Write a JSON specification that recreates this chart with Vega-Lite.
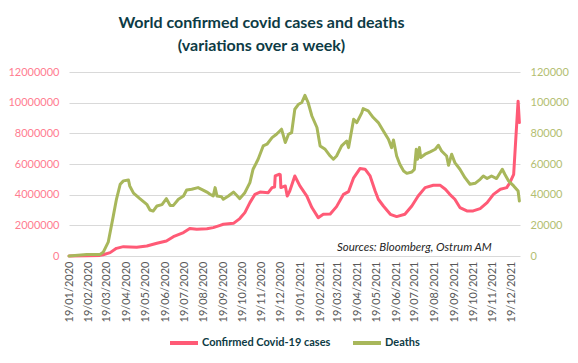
{
  "$schema": "https://vega.github.io/schema/vega-lite/v6.json",
  "width": 451,
  "height": 184,
  "autosize": {"type": "none"},
  "padding": {"left": 69, "top": 72, "right": 58, "bottom": 107},
  "background": "white",
  "title": {
    "text": ["World confirmed covid cases and deaths", "(variations over a week)"],
    "font": "Lato",
    "fontSize": 16,
    "fontWeight": "bold",
    "color": "#0D3B45",
    "anchor": "middle",
    "frame": "group",
    "dx": -33,
    "lineHeight": 23,
    "offset": 12
  },
  "datasets": {
    "cases": [
      {"date": "2020-01-19", "cases": 0},
      {"date": "2020-02-16", "cases": 15000},
      {"date": "2020-03-08", "cases": 40000},
      {"date": "2020-03-13", "cases": 80000},
      {"date": "2020-03-24", "cases": 220000},
      {"date": "2020-04-03", "cases": 500000},
      {"date": "2020-04-14", "cases": 610000},
      {"date": "2020-05-05", "cases": 570000},
      {"date": "2020-05-21", "cases": 650000},
      {"date": "2020-06-06", "cases": 830000},
      {"date": "2020-06-21", "cases": 980000},
      {"date": "2020-07-02", "cases": 1260000},
      {"date": "2020-07-18", "cases": 1530000},
      {"date": "2020-07-28", "cases": 1800000},
      {"date": "2020-08-08", "cases": 1740000},
      {"date": "2020-08-24", "cases": 1780000},
      {"date": "2020-09-03", "cases": 1850000},
      {"date": "2020-09-14", "cases": 2000000},
      {"date": "2020-09-19", "cases": 2070000},
      {"date": "2020-10-05", "cases": 2130000},
      {"date": "2020-10-15", "cases": 2440000},
      {"date": "2020-10-23", "cases": 2830000},
      {"date": "2020-10-31", "cases": 3480000},
      {"date": "2020-11-08", "cases": 4020000},
      {"date": "2020-11-16", "cases": 4170000},
      {"date": "2020-11-29", "cases": 4130000},
      {"date": "2020-12-05", "cases": 4460000},
      {"date": "2020-12-09", "cases": 4500000},
      {"date": "2020-12-10", "cases": 5220000},
      {"date": "2020-12-16", "cases": 5330000},
      {"date": "2020-12-18", "cases": 5300000},
      {"date": "2020-12-19", "cases": 4460000},
      {"date": "2020-12-26", "cases": 4570000},
      {"date": "2020-12-29", "cases": 3910000},
      {"date": "2021-01-02", "cases": 4240000},
      {"date": "2021-01-10", "cases": 5220000},
      {"date": "2021-01-18", "cases": 4570000},
      {"date": "2021-01-29", "cases": 3910000},
      {"date": "2021-02-06", "cases": 3160000},
      {"date": "2021-02-16", "cases": 2500000},
      {"date": "2021-02-24", "cases": 2720000},
      {"date": "2021-03-07", "cases": 2740000},
      {"date": "2021-03-17", "cases": 3220000},
      {"date": "2021-03-28", "cases": 4020000},
      {"date": "2021-04-05", "cases": 4200000},
      {"date": "2021-04-13", "cases": 5100000},
      {"date": "2021-04-23", "cases": 5700000},
      {"date": "2021-05-01", "cases": 5660000},
      {"date": "2021-05-09", "cases": 5220000},
      {"date": "2021-05-17", "cases": 4240000},
      {"date": "2021-05-22", "cases": 3700000},
      {"date": "2021-05-30", "cases": 3260000},
      {"date": "2021-06-10", "cases": 2720000},
      {"date": "2021-06-20", "cases": 2570000},
      {"date": "2021-07-03", "cases": 2720000},
      {"date": "2021-07-14", "cases": 3260000},
      {"date": "2021-07-24", "cases": 3910000},
      {"date": "2021-08-04", "cases": 4460000},
      {"date": "2021-08-17", "cases": 4610000},
      {"date": "2021-08-28", "cases": 4610000},
      {"date": "2021-09-05", "cases": 4350000},
      {"date": "2021-09-12", "cases": 4020000},
      {"date": "2021-09-20", "cases": 3700000},
      {"date": "2021-09-28", "cases": 3160000},
      {"date": "2021-10-09", "cases": 2940000},
      {"date": "2021-10-19", "cases": 2940000},
      {"date": "2021-10-30", "cases": 3090000},
      {"date": "2021-11-10", "cases": 3480000},
      {"date": "2021-11-20", "cases": 4020000},
      {"date": "2021-12-01", "cases": 4350000},
      {"date": "2021-12-11", "cases": 4460000},
      {"date": "2021-12-16", "cases": 4780000},
      {"date": "2021-12-22", "cases": 5330000},
      {"date": "2021-12-25", "cases": 7400000},
      {"date": "2021-12-29", "cases": 10100000},
      {"date": "2021-12-31", "cases": 8700000}
    ],
    "deaths": [
      {"date": "2020-01-19", "deaths": 0},
      {"date": "2020-02-16", "deaths": 1000},
      {"date": "2020-03-08", "deaths": 1000},
      {"date": "2020-03-13", "deaths": 2400},
      {"date": "2020-03-21", "deaths": 9000},
      {"date": "2020-03-29", "deaths": 26000},
      {"date": "2020-04-03", "deaths": 37000},
      {"date": "2020-04-09", "deaths": 46800},
      {"date": "2020-04-14", "deaths": 49000},
      {"date": "2020-04-22", "deaths": 49600},
      {"date": "2020-04-24", "deaths": 45700},
      {"date": "2020-04-30", "deaths": 41000},
      {"date": "2020-05-10", "deaths": 37400},
      {"date": "2020-05-21", "deaths": 33700},
      {"date": "2020-05-26", "deaths": 30000},
      {"date": "2020-05-31", "deaths": 29300},
      {"date": "2020-06-06", "deaths": 32600},
      {"date": "2020-06-14", "deaths": 33500},
      {"date": "2020-06-21", "deaths": 37400},
      {"date": "2020-06-27", "deaths": 33000},
      {"date": "2020-07-02", "deaths": 33000},
      {"date": "2020-07-10", "deaths": 37000},
      {"date": "2020-07-18", "deaths": 39100},
      {"date": "2020-07-23", "deaths": 43000},
      {"date": "2020-07-31", "deaths": 43500},
      {"date": "2020-08-10", "deaths": 44600},
      {"date": "2020-08-18", "deaths": 43000},
      {"date": "2020-08-24", "deaths": 41700},
      {"date": "2020-08-29", "deaths": 40300},
      {"date": "2020-09-03", "deaths": 39100},
      {"date": "2020-09-06", "deaths": 44600},
      {"date": "2020-09-09", "deaths": 39100},
      {"date": "2020-09-16", "deaths": 38700},
      {"date": "2020-09-19", "deaths": 37000},
      {"date": "2020-09-27", "deaths": 39100},
      {"date": "2020-10-05", "deaths": 41700},
      {"date": "2020-10-10", "deaths": 39600},
      {"date": "2020-10-15", "deaths": 37400},
      {"date": "2020-10-23", "deaths": 41300},
      {"date": "2020-10-31", "deaths": 47900},
      {"date": "2020-11-05", "deaths": 56600},
      {"date": "2020-11-13", "deaths": 63100},
      {"date": "2020-11-21", "deaths": 71800},
      {"date": "2020-11-27", "deaths": 72900},
      {"date": "2020-12-05", "deaths": 77200},
      {"date": "2020-12-12", "deaths": 79400},
      {"date": "2020-12-20", "deaths": 82700},
      {"date": "2020-12-26", "deaths": 74000},
      {"date": "2020-12-31", "deaths": 79400},
      {"date": "2021-01-05", "deaths": 80500},
      {"date": "2021-01-10", "deaths": 95700},
      {"date": "2021-01-16", "deaths": 99000},
      {"date": "2021-01-21", "deaths": 100100},
      {"date": "2021-01-26", "deaths": 104800},
      {"date": "2021-01-31", "deaths": 100100},
      {"date": "2021-02-06", "deaths": 91300},
      {"date": "2021-02-14", "deaths": 83800},
      {"date": "2021-02-19", "deaths": 71800},
      {"date": "2021-02-27", "deaths": 69600},
      {"date": "2021-03-07", "deaths": 65200},
      {"date": "2021-03-12", "deaths": 63100},
      {"date": "2021-03-17", "deaths": 65200},
      {"date": "2021-03-25", "deaths": 71800},
      {"date": "2021-04-02", "deaths": 75000},
      {"date": "2021-04-05", "deaths": 70700},
      {"date": "2021-04-13", "deaths": 89200},
      {"date": "2021-04-18", "deaths": 87000},
      {"date": "2021-04-26", "deaths": 93500},
      {"date": "2021-04-28", "deaths": 96100},
      {"date": "2021-05-06", "deaths": 94600},
      {"date": "2021-05-14", "deaths": 90300},
      {"date": "2021-05-22", "deaths": 87000},
      {"date": "2021-05-30", "deaths": 81500},
      {"date": "2021-06-07", "deaths": 76100},
      {"date": "2021-06-12", "deaths": 70700},
      {"date": "2021-06-15", "deaths": 75700},
      {"date": "2021-06-20", "deaths": 65200},
      {"date": "2021-06-25", "deaths": 59800},
      {"date": "2021-07-01", "deaths": 55400},
      {"date": "2021-07-06", "deaths": 53900},
      {"date": "2021-07-14", "deaths": 54800},
      {"date": "2021-07-18", "deaths": 56500},
      {"date": "2021-07-21", "deaths": 69600},
      {"date": "2021-07-23", "deaths": 63100},
      {"date": "2021-07-26", "deaths": 70700},
      {"date": "2021-07-28", "deaths": 64200},
      {"date": "2021-08-04", "deaths": 66400},
      {"date": "2021-08-12", "deaths": 67900},
      {"date": "2021-08-20", "deaths": 69600},
      {"date": "2021-08-25", "deaths": 72200},
      {"date": "2021-08-30", "deaths": 68500},
      {"date": "2021-09-07", "deaths": 65200},
      {"date": "2021-09-10", "deaths": 59200},
      {"date": "2021-09-15", "deaths": 66400},
      {"date": "2021-09-20", "deaths": 60900},
      {"date": "2021-09-28", "deaths": 56600},
      {"date": "2021-10-06", "deaths": 51100},
      {"date": "2021-10-14", "deaths": 46800},
      {"date": "2021-10-22", "deaths": 47400},
      {"date": "2021-10-30", "deaths": 50000},
      {"date": "2021-11-04", "deaths": 52200},
      {"date": "2021-11-10", "deaths": 50500},
      {"date": "2021-11-17", "deaths": 52200},
      {"date": "2021-11-25", "deaths": 50500},
      {"date": "2021-12-04", "deaths": 56600},
      {"date": "2021-12-08", "deaths": 53300},
      {"date": "2021-12-14", "deaths": 48900},
      {"date": "2021-12-22", "deaths": 45700},
      {"date": "2021-12-29", "deaths": 42400},
      {"date": "2021-12-31", "deaths": 35900}
    ],
    "note": [
      {"date": "2021-07-18", "value": 520000, "label": "Sources: Bloomberg, Ostrum AM"}
    ]
  },
  "encoding": {
    "x": {
      "field": "date",
      "type": "temporal",
      "title": null,
      "scale": {
        "type": "utc",
        "domain": [
          {"year": 2020, "month": 1, "date": 19, "utc": true},
          {"year": 2022, "month": 1, "date": 1, "utc": true}
        ]
      },
      "axis": {
        "values": [
          {"year": 2020, "month": 1, "date": 19, "utc": true},
          {"year": 2020, "month": 2, "date": 19, "utc": true},
          {"year": 2020, "month": 3, "date": 19, "utc": true},
          {"year": 2020, "month": 4, "date": 19, "utc": true},
          {"year": 2020, "month": 5, "date": 19, "utc": true},
          {"year": 2020, "month": 6, "date": 19, "utc": true},
          {"year": 2020, "month": 7, "date": 19, "utc": true},
          {"year": 2020, "month": 8, "date": 19, "utc": true},
          {"year": 2020, "month": 9, "date": 19, "utc": true},
          {"year": 2020, "month": 10, "date": 19, "utc": true},
          {"year": 2020, "month": 11, "date": 19, "utc": true},
          {"year": 2020, "month": 12, "date": 19, "utc": true},
          {"year": 2021, "month": 1, "date": 19, "utc": true},
          {"year": 2021, "month": 2, "date": 19, "utc": true},
          {"year": 2021, "month": 3, "date": 19, "utc": true},
          {"year": 2021, "month": 4, "date": 19, "utc": true},
          {"year": 2021, "month": 5, "date": 19, "utc": true},
          {"year": 2021, "month": 6, "date": 19, "utc": true},
          {"year": 2021, "month": 7, "date": 19, "utc": true},
          {"year": 2021, "month": 8, "date": 19, "utc": true},
          {"year": 2021, "month": 9, "date": 19, "utc": true},
          {"year": 2021, "month": 10, "date": 19, "utc": true},
          {"year": 2021, "month": 11, "date": 19, "utc": true},
          {"year": 2021, "month": 12, "date": 19, "utc": true}
        ],
        "format": "%d/%m/%Y",
        "labelAngle": -90,
        "labelFont": "Lato",
        "labelFontSize": 11,
        "labelColor": "#595959",
        "labelPadding": 5,
        "labelOverlap": false,
        "labelFlush": false,
        "ticks": false,
        "domain": false,
        "grid": false
      }
    }
  },
  "layer": [
    {
      "data": {"name": "cases"},
      "mark": {"type": "line", "strokeWidth": 3, "strokeJoin": "round", "strokeCap": "round"},
      "encoding": {
        "y": {
          "field": "cases",
          "type": "quantitative",
          "title": null,
          "scale": {"domain": [0, 12000000], "nice": false},
          "axis": {
            "values": [0, 2000000, 4000000, 6000000, 8000000, 10000000, 12000000],
            "format": "d",
            "labelFont": "Lato",
            "labelFontSize": 11,
            "labelColor": "#FF7D91",
            "labelPadding": 10,
            "labelOverlap": false,
            "labelFlush": false,
            "ticks": false,
            "domain": false,
            "grid": true,
            "gridColor": "#D9D9D9",
            "gridWidth": 1
          }
        },
        "color": {
          "datum": "Confirmed Covid-19 cases",
          "type": "nominal",
          "scale": {
            "domain": ["Confirmed Covid-19 cases", "Deaths"],
            "range": ["#FF5A76", "#A8B75B"]
          },
          "legend": {
            "title": null,
            "orient": "none",
            "legendX": 99,
            "legendY": 255,
            "direction": "horizontal",
            "symbolType": "stroke",
            "symbolSize": 784,
            "symbolStrokeWidth": 4,
            "labelFont": "Lato",
            "labelFontSize": 11,
            "labelFontWeight": "bold",
            "labelColor": "#0D3B45",
            "labelOffset": 2,
            "columnPadding": 14
          }
        }
      }
    },
    {
      "data": {"name": "note"},
      "mark": {"type": "text", "font": "Lato", "fontSize": 11.5, "fontStyle": "italic", "color": "#262626", "align": "center", "baseline": "middle"},
      "encoding": {
        "y": {"field": "value", "type": "quantitative", "scale": {"domain": [0, 12000000], "nice": false}, "axis": null},
        "text": {"field": "label"}
      }
    },
    {
      "data": {"name": "deaths"},
      "mark": {"type": "line", "strokeWidth": 3, "strokeJoin": "round", "strokeCap": "round"},
      "encoding": {
        "y": {
          "field": "deaths",
          "type": "quantitative",
          "title": null,
          "scale": {"domain": [0, 120000], "nice": false},
          "axis": {
            "orient": "right",
            "values": [0, 20000, 40000, 60000, 80000, 100000, 120000],
            "format": "d",
            "labelFont": "Lato",
            "labelFontSize": 11,
            "labelColor": "#B3BE72",
            "labelPadding": 10,
            "labelOverlap": false,
            "labelFlush": false,
            "ticks": false,
            "domain": false,
            "grid": false
          }
        },
        "color": {"datum": "Deaths", "type": "nominal"}
      }
    }
  ],
  "resolve": {"scale": {"y": "independent"}},
  "config": {
    "view": {"stroke": null}
  }
}
